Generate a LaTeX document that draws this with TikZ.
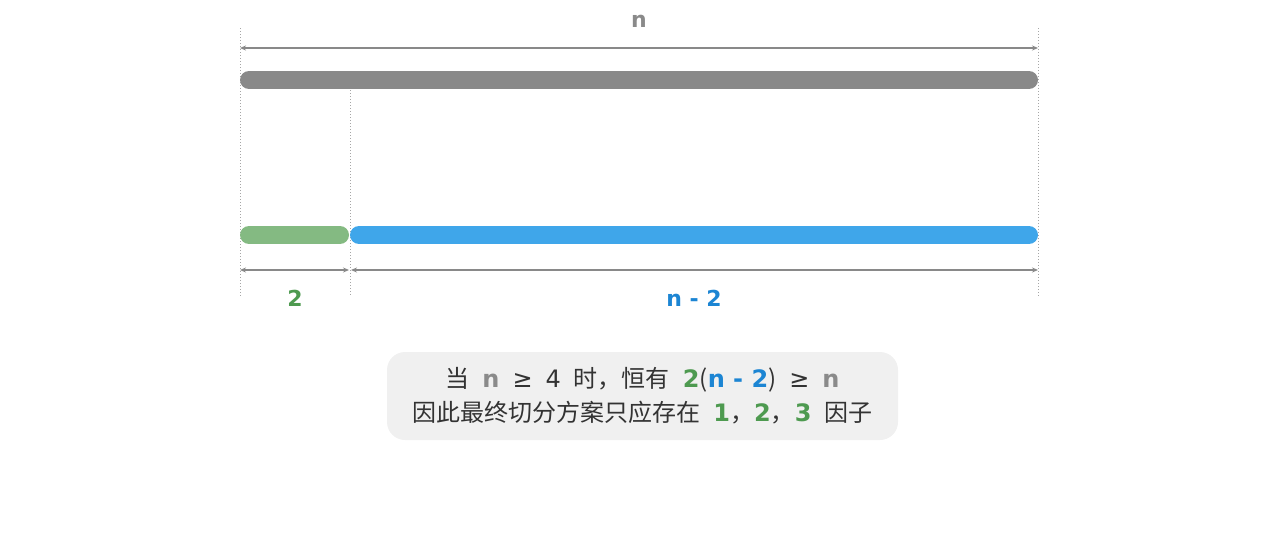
\documentclass[tikz,border=0pt]{standalone}
\usepackage{fontspec}
\newfontfamily\cjk{Noto Sans CJK SC}
\newfontfamily\lat{DejaVu Sans}
\usetikzlibrary{arrows.meta}
\definecolor{barGray}{HTML}{898989}
\definecolor{barGreen}{HTML}{84BA82}
\definecolor{barBlue}{HTML}{3FA6EA}
\definecolor{txtGray}{HTML}{8A8A8A}
\definecolor{txtGreen}{HTML}{4E9A50}
\definecolor{txtBlue}{HTML}{1C85D3}
\definecolor{txtDark}{HTML}{333333}
\definecolor{boxFill}{HTML}{F0F0F0}
\newcommand{\cg}[2]{{\lat\bfseries\color{#1}#2}}
\newcommand{\gap}{\hspace{13pt}}
\begin{document}
\begin{tikzpicture}[x=1pt,y=-1pt,line join = round, line cap = round, >= {Stealth[length=6pt,width=5pt]}]
			\useasboundingbox (0,0) rectangle (1280,533);
			\tikzset{guide/.style={draw=black!35,line width=0.7pt,dash pattern=on 1pt off 2pt,line cap=butt},
				dim/.style={<->,draw=barGray,line width=1.5pt},
				bar/.style={line width=18pt,line cap=round}}
			% guides
			\foreach \x/\t in {240/28,1038/28,350/90} \draw[guide] (\x,\t)--(\x,296);
			% bars
			\draw[bar,barGray] (249,80)--(1029,80);
			\draw[bar,barGreen] (249,235)--(340,235);
			\draw[bar,barBlue] (359,235)--(1029,235);
			% dimensions
			\coordinate (A) at (240,48);
			\coordinate (B) at (1038,48);
			\coordinate (C) at (240,270);
			\coordinate (D) at (349,270);
			\coordinate (E) at (351,270);
			\coordinate (F) at (1038,270);
			\draw[dim] (A)--(B);
			\draw[dim] (C)--(D);
			\draw[dim] (E)--(F);
			\node[font=\fontsize{22}{22}\selectfont] (n) at (639,21) {\cg{txtGray}{n}};
			\node[font=\fontsize{22}{22}\selectfont] (two) at (295,298) {\cg{txtGreen}{2}};
			\node[font=\fontsize{22}{22}\selectfont] (rest) at (694,298) {\cg{txtBlue}{n - 2}};
			% note
			\node[fill=boxFill,rounded corners=18pt,minimum width=511pt,minimum height=88pt,align=center,
				text=txtDark,font=\fontsize{24}{34}\selectfont] (note) at (642.5,396)
				{\cjk 当\gap\cg{txtGray}{n}\gap{\lat ≥}\gap{\lat 4}\gap 时，恒有\gap\cg{txtGreen}{2}(\cg{txtBlue}{n - 2})\gap{\lat ≥}\gap\cg{txtGray}{n}\\
				\cjk 因此最终切分方案只应存在\gap\cg{txtGreen}{1}，\cg{txtGreen}{2}，\cg{txtGreen}{3}\gap 因子};
		\end{tikzpicture}
\end{document}
